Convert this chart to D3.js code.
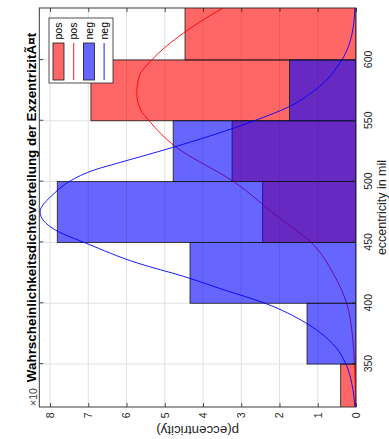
<!DOCTYPE html>
<html>
<head>
<meta charset="utf-8">
<script src="https://cdn.jsdelivr.net/npm/d3@7"></script>
<style>
  html, body { margin: 0; padding: 0; background: #fff; }
  svg { display: block; font-family: "Liberation Sans", Arial, Helvetica, sans-serif; }
</style>
</head>
<body>
<svg id="chart" width="389" height="439"></svg>
<script>
// ---------------- data (density values in units of 1e-3) ----------------
const binEdges = [300, 350, 400, 450, 500, 550, 600, 650];
const posDensity = [0.40, 0, 0, 2.44, 3.24, 6.93, 4.47];
const negDensity = [0, 1.28, 4.34, 7.81, 4.78, 1.74, 0];

const posCurveX = [314.7, 334, 349.3, 372.6, 399.5, 424.7, 449.3, 471.2, 500, 528.7, 550.1, 558.9, 572.6, 586.3, 600, 621.9, 642.7];
const posCurveY = [0.01, 0.02, 0.04, 0.09, 0.24, 0.60, 1.15, 2.05, 3.20, 4.72, 5.41, 5.63, 5.73, 5.67, 5.34, 4.52, 3.48];

const negCurveX = [314.7, 334, 349, 367, 384, 400, 411, 422, 433, 449, 460, 475, 490, 500, 510, 515, 528, 550, 562, 575, 600, 622, 642.7];
const negCurveY = [0.03, 0.11, 0.25, 0.62, 1.32, 2.38, 3.45, 4.50, 5.71, 7.03, 7.85, 8.26, 7.90, 7.50, 6.80, 6.25, 4.80, 2.66, 1.72, 1.08, 0.37, 0.10, 0.03];

const xTicks = [350, 400, 450, 500, 550, 600];
const yTicks = [0, 1, 2, 3, 4, 5, 6, 7, 8];
const xDomain = [314.7, 642.7];
const yDomain = [0, 8.28];

const titleText = "Wahrscheinlichkeitsdichteverteilung der ExzentrizitÃ¤t";
const xLabel = "eccentricity in mil";
const yLabel = "p(eccentricity)";
const exponentText = "\u00d710";
const legendLabels = ["pos", "pos", "neg", "neg"];

// ---------------- layout (original, unrotated figure: 439 x 389) ----------------
const W = 439, H = 389;
const plot = { left: 32, right: 431, top: 39.3, bottom: 356 };
const axisColor = "#262626";
const gridColor = "#dedede";
const red = "#ff0000", blue = "#0000ff";

const svg = d3.select("#chart");
svg.append("rect").attr("width", 389).attr("height", 439).attr("fill", "#fff");

// whole figure rotated 90 degrees counter-clockwise
const fig = svg.append("g").attr("transform", `translate(0,${W}) rotate(-90)`);

const x = d3.scaleLinear().domain(xDomain).range([plot.left, plot.right]);
const y = d3.scaleLinear().domain(yDomain).range([plot.bottom, plot.top]);

fig.append("defs").append("clipPath").attr("id", "clip")
  .append("rect")
  .attr("x", plot.left).attr("y", plot.top)
  .attr("width", plot.right - plot.left).attr("height", plot.bottom - plot.top);

// grid
const grid = fig.append("g");
grid.selectAll(".gx").data(xTicks).join("line")
  .attr("x1", d => x(d)).attr("x2", d => x(d))
  .attr("y1", plot.top).attr("y2", plot.bottom)
  .attr("stroke", gridColor).attr("stroke-width", 0.9);
grid.selectAll(".gy").data(yTicks).join("line")
  .attr("y1", d => y(d)).attr("y2", d => y(d))
  .attr("x1", plot.left).attr("x2", plot.right)
  .attr("stroke", gridColor).attr("stroke-width", 0.9);

const plotArea = fig.append("g").attr("clip-path", "url(#clip)");

const bins = (vals) => vals.map((v, i) => ({ x0: binEdges[i], x1: binEdges[i + 1], v }))
  .filter(d => d.v > 0);

const line = d3.line().x(d => x(d[0])).y(d => y(d[1])).curve(d3.curveMonotoneX);

function drawHist(vals, color) {
  plotArea.append("g").selectAll("rect").data(bins(vals)).join("rect")
    .attr("x", d => x(d.x0)).attr("width", d => x(d.x1) - x(d.x0))
    .attr("y", d => y(d.v)).attr("height", d => y(0) - y(d.v))
    .attr("fill", color).attr("fill-opacity", 0.6)
    .attr("stroke", "#1a1a1a").attr("stroke-width", 0.8);
}
function drawCurve(xs, ys, color) {
  plotArea.append("path")
    .datum(xs.map((v, i) => [v, ys[i]]))
    .attr("d", line)
    .attr("fill", "none").attr("stroke", color).attr("stroke-width", 0.9);
}

drawHist(posDensity, red);
drawCurve(posCurveX, posCurveY, red);
drawHist(negDensity, blue);
drawCurve(negCurveX, negCurveY, blue);

// axes
const tickLen = 4;
const axB = fig.append("g").attr("transform", `translate(0,${plot.bottom})`)
  .call(d3.axisBottom(x).tickValues(xTicks).tickSizeInner(-tickLen).tickSizeOuter(0).tickPadding(8.5));
const axT = fig.append("g").attr("transform", `translate(0,${plot.top})`)
  .call(d3.axisTop(x).tickValues(xTicks).tickSizeInner(-tickLen).tickSizeOuter(0).tickFormat(""));
const axL = fig.append("g").attr("transform", `translate(${plot.left},0)`)
  .call(d3.axisLeft(y).tickValues(yTicks).tickSizeInner(-tickLen).tickSizeOuter(0).tickPadding(5.5));
const axR = fig.append("g").attr("transform", `translate(${plot.right},0)`)
  .call(d3.axisRight(y).tickValues(yTicks).tickSizeInner(-tickLen).tickSizeOuter(0).tickFormat(""));
[axB, axT, axL, axR].forEach(a => {
  a.select(".domain").remove();
  a.selectAll("line").attr("stroke", axisColor).attr("stroke-width", 0.8);
  a.selectAll("text").attr("fill", axisColor).attr("font-size", 10.5)
    .attr("font-family", "'Liberation Sans', Arial, sans-serif");
});
fig.append("rect")
  .attr("x", plot.left).attr("y", plot.top)
  .attr("width", plot.right - plot.left).attr("height", plot.bottom - plot.top)
  .attr("fill", "none").attr("stroke", axisColor).attr("stroke-width", 0.9);

// labels
fig.append("text")
  .attr("x", (plot.left + plot.right) / 2).attr("y", 35.5)
  .attr("text-anchor", "middle").attr("font-weight", "bold")
  .attr("font-size", 13.4).attr("fill", "#000").text(titleText);

fig.append("text")
  .attr("x", 33).attr("y", 37)
  .attr("font-size", 10.5).attr("fill", "#444").text(exponentText);

fig.append("text")
  .attr("x", (plot.left + plot.right) / 2).attr("y", 386)
  .attr("text-anchor", "middle").attr("font-size", 12.5)
  .attr("fill", axisColor).text(xLabel);

fig.append("text")
  .attr("transform", `translate(13,${(plot.top + plot.bottom) / 2}) rotate(-90)`)
  .attr("text-anchor", "middle").attr("font-size", 13.3)
  .attr("fill", axisColor).text(yLabel);

// legend
const leg = fig.append("g");
const lg = { x: 356, y: 49, w: 65, h: 64, row0: 58.5, step: 15.2, ix0: 359, ix1: 396, tx: 399.5 };
leg.append("rect").attr("x", lg.x).attr("y", lg.y).attr("width", lg.w).attr("height", lg.h)
  .attr("fill", "#fff").attr("stroke", axisColor).attr("stroke-width", 0.8);
const legItems = [
  { label: legendLabels[0], type: "patch", color: red },
  { label: legendLabels[1], type: "line", color: red },
  { label: legendLabels[2], type: "patch", color: blue },
  { label: legendLabels[3], type: "line", color: blue }
];
legItems.forEach((it, i) => {
  const cy = lg.row0 + i * lg.step;
  if (it.type === "patch") {
    leg.append("rect").attr("x", lg.ix0).attr("y", cy - 5.5)
      .attr("width", lg.ix1 - lg.ix0).attr("height", 11)
      .attr("fill", it.color).attr("fill-opacity", 0.6)
      .attr("stroke", "#1a1a1a").attr("stroke-width", 0.8);
  } else {
    leg.append("line").attr("x1", lg.ix0).attr("x2", lg.ix1)
      .attr("y1", cy).attr("y2", cy)
      .attr("stroke", it.color).attr("stroke-width", 0.9);
  }
  leg.append("text").attr("x", lg.tx).attr("y", cy).attr("dy", "0.35em")
    .attr("font-size", 10.5).attr("fill", "#000").text(it.label);
});
</script>
</body>
</html>
